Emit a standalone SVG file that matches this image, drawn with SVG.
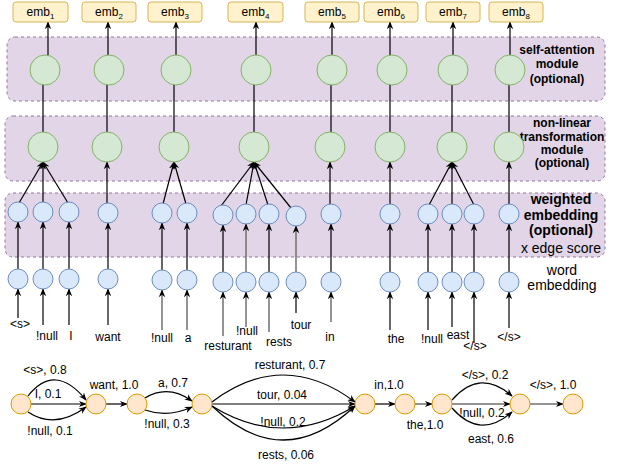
<svg xmlns="http://www.w3.org/2000/svg" width="622" height="465" viewBox="0 0 622 465">
<style>
text{font-family:"Liberation Sans",Arial,sans-serif;fill:#000}
.lbl{font-size:12px;text-anchor:middle}
.side{font-size:12px;font-weight:bold;text-anchor:middle}
.sideL{font-size:14px;font-weight:bold;text-anchor:middle}
.sideN{font-size:14px;text-anchor:middle}
.mod{fill:#e1d5e7;stroke:#9673a6;stroke-dasharray:3 3;stroke-width:1}
.emb{fill:#fff2cc;stroke:#d6b656;stroke-width:1}
.g{fill:#d5e8d4;stroke:#82b366;stroke-width:1}
.b{fill:#dae8fc;stroke:#6c8ebf;stroke-width:1}
.o{fill:#ffe6cc;stroke:#d79b00;stroke-width:1}
.e{fill:none;stroke:#000;stroke-width:1.2}
.a{fill:none;stroke:#000;stroke-width:1.2;marker-end:url(#arr)}
.ag{fill:none;stroke:#707070;stroke-width:1.5;marker-end:url(#arrg)}
</style>
<defs>
<marker id="arr" viewBox="0 0 10 10" refX="9" refY="5" markerWidth="8" markerHeight="8" markerUnits="userSpaceOnUse" orient="auto"><path d="M0,1 L10,5 L0,9 L3,5 z" fill="#000"/></marker>
<marker id="arrg" viewBox="0 0 10 10" refX="9" refY="5" markerWidth="8" markerHeight="8" markerUnits="userSpaceOnUse" orient="auto"><path d="M0,1 L10,5 L0,9 L3,5 z" fill="#000"/></marker>
</defs>

<g id="modules">
<rect id="selfattn-module" class="mod" x="7" y="37" width="598" height="64" rx="8"/>
<rect id="nonlinear-module" class="mod" x="5" y="116" width="600" height="65" rx="8"/>
<rect id="weighted-module" class="mod" x="5" y="193" width="600" height="64" rx="8"/>
<text class="side" x="557" y="54">self-attention</text>
<text class="side" x="557" y="68">module</text>
<text class="side" x="557" y="83">(optional)</text>
<text class="side" x="562" y="127">non-linear</text>
<text class="side" x="562" y="141">transformation</text>
<text class="side" x="562" y="154">module</text>
<text class="side" x="562" y="167">(optional)</text>
<text class="sideL" x="561" y="204">weighted</text>
<text class="sideL" x="561" y="220">embedding</text>
<text class="sideL" x="561" y="235">(optional)</text>
<text class="sideN" x="561" y="253">x edge score</text>
<text class="sideN" x="562" y="275">word</text>
<text class="sideN" x="562" y="290">embedding</text>
</g>

<g id="connectors">
<!-- to emb boxes -->
<line class="a" x1="48" y1="55" x2="48" y2="22"/>
<line class="a" x1="108" y1="55" x2="108" y2="22"/>
<line class="a" x1="176" y1="55" x2="176" y2="22"/>
<line class="a" x1="256" y1="55" x2="256" y2="22"/>
<line class="a" x1="332" y1="55" x2="332" y2="22"/>
<line class="a" x1="390" y1="55" x2="390" y2="22"/>
<line class="a" x1="453" y1="55" x2="453" y2="22"/>
<line class="a" x1="510" y1="55" x2="510" y2="22"/>
<!-- nonlinear to self-attn -->
<line class="e" x1="43" y1="132" x2="43" y2="85"/>
<line class="e" x1="107" y1="132" x2="107" y2="85"/>
<line class="e" x1="174" y1="132" x2="174" y2="85"/>
<line class="e" x1="254" y1="132" x2="254" y2="85"/>
<line class="e" x1="331" y1="132" x2="331" y2="85"/>
<line class="e" x1="390" y1="132" x2="390" y2="85"/>
<line class="e" x1="452" y1="132" x2="452" y2="85"/>
<line class="e" x1="509" y1="132" x2="509" y2="85"/>
<!-- weighted to nonlinear -->
<line class="a" x1="19" y1="203" x2="43" y2="162"/>
<line class="a" x1="43" y1="202" x2="43" y2="162"/>
<line class="a" x1="68" y1="203" x2="43" y2="162"/>
<line class="a" x1="107" y1="203" x2="107" y2="162"/>
<line class="a" x1="163" y1="204" x2="174" y2="162"/>
<line class="a" x1="186" y1="204" x2="174" y2="162"/>
<line class="a" x1="221" y1="206" x2="254" y2="162"/>
<line class="a" x1="246" y1="205" x2="254" y2="162"/>
<line class="a" x1="268" y1="205" x2="254" y2="162"/>
<line class="a" x1="291" y1="208" x2="254" y2="162"/>
<line class="a" x1="330" y1="204" x2="330" y2="162"/>
<line class="a" x1="390" y1="204" x2="390" y2="162"/>
<line class="a" x1="429" y1="205" x2="452" y2="162"/>
<line class="a" x1="452" y1="204" x2="452" y2="162"/>
<line class="a" x1="474" y1="205" x2="452" y2="162"/>
<line class="a" x1="509" y1="204" x2="509" y2="162"/>
<!-- word to weighted -->
<line class="a" x1="18" y1="269" x2="18" y2="222"/>
<line class="a" x1="43" y1="269" x2="43" y2="222"/>
<line class="a" x1="69" y1="269" x2="69" y2="222"/>
<line class="a" x1="108" y1="270" x2="108" y2="223"/>
<line class="a" x1="162" y1="270" x2="162" y2="223"/>
<line class="a" x1="187" y1="270" x2="187" y2="223"/>
<line class="a" x1="223" y1="272" x2="223" y2="225"/>
<line class="ag" x1="246" y1="272" x2="246" y2="224"/>
<line class="a" x1="269" y1="272" x2="269" y2="224"/>
<line class="ag" x1="296" y1="272" x2="296" y2="226"/>
<line class="a" x1="331" y1="272" x2="331" y2="224"/>
<line class="a" x1="390" y1="272" x2="390" y2="224"/>
<line class="a" x1="428" y1="272" x2="428" y2="224"/>
<line class="a" x1="452" y1="272" x2="452" y2="224"/>
<line class="a" x1="474" y1="272" x2="474" y2="224"/>
<line class="a" x1="509" y1="272" x2="509" y2="224"/>
<!-- labels to word -->
<line class="a" x1="18" y1="318" x2="18" y2="289"/>
<line class="a" x1="43" y1="325" x2="43" y2="289"/>
<line class="a" x1="69" y1="325" x2="69" y2="289"/>
<line class="a" x1="108" y1="325" x2="108" y2="289"/>
<line class="ag" x1="162" y1="330" x2="162" y2="290"/>
<line class="ag" x1="187" y1="330" x2="187" y2="290"/>
<line class="ag" x1="223" y1="336" x2="223" y2="292"/>
<line class="ag" x1="246" y1="327" x2="246" y2="292"/>
<line class="ag" x1="269" y1="332" x2="269" y2="292"/>
<line class="a" x1="296" y1="313" x2="296" y2="292"/>
<line class="ag" x1="331" y1="322" x2="331" y2="292"/>
<line class="a" x1="390" y1="330" x2="390" y2="292"/>
<line class="a" x1="428" y1="330" x2="428" y2="292"/>
<line class="a" x1="452" y1="327" x2="452" y2="292"/>
<line class="a" x1="474" y1="343" x2="474" y2="292"/>
<line class="a" x1="509" y1="328" x2="509" y2="292"/>
<!-- lattice -->
<path class="a" d="M28 396 Q55 362 86 400"/>
<line class="a" x1="31" y1="404" x2="86" y2="404"/>
<path class="a" d="M28 412 Q55 430 86 407"/>
<line class="a" x1="106" y1="404" x2="127" y2="404"/>
<path class="a" d="M145 398 Q168 384 192 401"/>
<path class="a" d="M145 410 Q168 418 192 407"/>
<path class="a" d="M212 402 Q283 348 355 402"/>
<line class="a" x1="212" y1="404" x2="355" y2="404"/>
<path class="a" d="M212 406 Q283 450 355 406"/>
<path class="a" d="M212 406 Q283 474 355 406"/>
<line class="a" x1="375" y1="404" x2="395" y2="404"/>
<line class="ag" x1="415" y1="404" x2="432" y2="404"/>
<path class="a" d="M452 400 Q480 368 512 396"/>
<line class="ag" x1="452" y1="404" x2="510" y2="404"/>
<path class="a" d="M452 408 Q480 440 512 412"/>
<line class="ag" x1="530" y1="404" x2="563" y2="404"/>
</g>

<g id="emb-nodes">
<g id="emb1"><rect class="emb" x="13" y="2" width="55" height="20" rx="3"/><text class="lbl" x="40.5" y="16">emb<tspan font-size="8" dy="3">1</tspan></text></g>
<g id="emb2"><rect class="emb" x="82" y="2" width="54" height="20" rx="3"/><text class="lbl" x="109" y="16">emb<tspan font-size="8" dy="3">2</tspan></text></g>
<g id="emb3"><rect class="emb" x="148" y="2" width="54" height="20" rx="3"/><text class="lbl" x="175" y="16">emb<tspan font-size="8" dy="3">3</tspan></text></g>
<g id="emb4"><rect class="emb" x="228" y="2" width="55" height="20" rx="3"/><text class="lbl" x="255.5" y="16">emb<tspan font-size="8" dy="3">4</tspan></text></g>
<g id="emb5"><rect class="emb" x="305" y="2" width="54" height="20" rx="3"/><text class="lbl" x="332" y="16">emb<tspan font-size="8" dy="3">5</tspan></text></g>
<g id="emb6"><rect class="emb" x="364" y="2" width="54" height="20" rx="3"/><text class="lbl" x="391" y="16">emb<tspan font-size="8" dy="3">6</tspan></text></g>
<g id="emb7"><rect class="emb" x="426" y="2" width="54" height="20" rx="3"/><text class="lbl" x="453" y="16">emb<tspan font-size="8" dy="3">7</tspan></text></g>
<g id="emb8"><rect class="emb" x="489" y="2" width="54" height="20" rx="3"/><text class="lbl" x="516" y="16">emb<tspan font-size="8" dy="3">8</tspan></text></g>
</g>

<g id="selfattn-nodes">
<circle id="sa1" class="g" cx="45" cy="70" r="15"/>
<circle id="sa2" class="g" cx="109" cy="70" r="15"/>
<circle id="sa3" class="g" cx="176" cy="70" r="15"/>
<circle id="sa4" class="g" cx="256" cy="70" r="15"/>
<circle id="sa5" class="g" cx="332" cy="70" r="15"/>
<circle id="sa6" class="g" cx="392" cy="70" r="15"/>
<circle id="sa7" class="g" cx="453" cy="70" r="15"/>
<circle id="sa8" class="g" cx="510" cy="70" r="15"/>
</g>

<g id="nonlinear-nodes">
<circle id="nl1" class="g" cx="43" cy="147" r="15"/>
<circle id="nl2" class="g" cx="107" cy="147" r="15"/>
<circle id="nl3" class="g" cx="174" cy="147" r="15"/>
<circle id="nl4" class="g" cx="254" cy="147" r="15"/>
<circle id="nl5" class="g" cx="330" cy="147" r="15"/>
<circle id="nl6" class="g" cx="390" cy="147" r="15"/>
<circle id="nl7" class="g" cx="452" cy="147" r="15"/>
<circle id="nl8" class="g" cx="509" cy="147" r="15"/>
</g>

<g id="weighted-nodes">
<circle id="w1" class="b" cx="18" cy="212" r="10"/>
<circle id="w2" class="b" cx="43" cy="212" r="10"/>
<circle id="w3" class="b" cx="69" cy="212" r="10"/>
<circle id="w4" class="b" cx="108" cy="213" r="10"/>
<circle id="w5" class="b" cx="162" cy="213" r="10"/>
<circle id="w6" class="b" cx="187" cy="213" r="10"/>
<circle id="w7" class="b" cx="223" cy="215" r="10"/>
<circle id="w8" class="b" cx="246" cy="214" r="10"/>
<circle id="w9" class="b" cx="269" cy="214" r="10"/>
<circle id="w10" class="b" cx="296" cy="216" r="10"/>
<circle id="w11" class="b" cx="331" cy="214" r="10"/>
<circle id="w12" class="b" cx="390" cy="214" r="10"/>
<circle id="w13" class="b" cx="428" cy="214" r="10"/>
<circle id="w14" class="b" cx="452" cy="214" r="10"/>
<circle id="w15" class="b" cx="474" cy="214" r="10"/>
<circle id="w16" class="b" cx="509" cy="214" r="10"/>
</g>

<g id="word-nodes">
<circle id="x1" class="b" cx="18" cy="279" r="10"/>
<circle id="x2" class="b" cx="43" cy="279" r="10"/>
<circle id="x3" class="b" cx="69" cy="279" r="10"/>
<circle id="x4" class="b" cx="108" cy="279" r="10"/>
<circle id="x5" class="b" cx="162" cy="280" r="10"/>
<circle id="x6" class="b" cx="187" cy="280" r="10"/>
<circle id="x7" class="b" cx="223" cy="282" r="10"/>
<circle id="x8" class="b" cx="246" cy="282" r="10"/>
<circle id="x9" class="b" cx="269" cy="282" r="10"/>
<circle id="x10" class="b" cx="296" cy="282" r="10"/>
<circle id="x11" class="b" cx="331" cy="282" r="10"/>
<circle id="x12" class="b" cx="390" cy="282" r="10"/>
<circle id="x13" class="b" cx="428" cy="282" r="10"/>
<circle id="x14" class="b" cx="452" cy="282" r="10"/>
<circle id="x15" class="b" cx="474" cy="282" r="10"/>
<circle id="x16" class="b" cx="509" cy="282" r="10"/>
</g>

<g id="word-labels">
<text class="lbl" x="20" y="328">&lt;s&gt;</text>
<text class="lbl" x="47" y="340">!null</text>
<text class="lbl" x="71" y="340">I</text>
<text class="lbl" x="108" y="341">want</text>
<text class="lbl" x="162" y="342">!null</text>
<text class="lbl" x="188" y="342">a</text>
<text class="lbl" x="228" y="350">resturant</text>
<text class="lbl" x="247" y="335">!null</text>
<text class="lbl" x="279" y="346">rests</text>
<text class="lbl" x="301" y="329">tour</text>
<text class="lbl" x="330" y="341">in</text>
<text class="lbl" x="396" y="343">the</text>
<text class="lbl" x="432" y="343">!null</text>
<text class="lbl" x="458" y="339">east</text>
<text class="lbl" x="475" y="350">&lt;/s&gt;</text>
<text class="lbl" x="509" y="341">&lt;/s&gt;</text>
</g>

<g id="lattice-nodes">
<circle id="n0" class="o" cx="21" cy="404" r="10"/>
<circle id="n1" class="o" cx="96" cy="404" r="10"/>
<circle id="n2" class="o" cx="137" cy="404" r="10"/>
<circle id="n3" class="o" cx="202" cy="404" r="10"/>
<circle id="n4" class="o" cx="365" cy="404" r="10"/>
<circle id="n5" class="o" cx="405" cy="404" r="10"/>
<circle id="n6" class="o" cx="442" cy="404" r="10"/>
<circle id="n7" class="o" cx="520" cy="404" r="10"/>
<circle id="n8" class="o" cx="573" cy="404" r="10"/>
</g>

<g id="lattice-labels">
<text class="lbl" x="45" y="374">&lt;s&gt;, 0.8</text>
<text class="lbl" x="48" y="398">I, 0.1</text>
<text class="lbl" x="50" y="435">!null, 0.1</text>
<text class="lbl" x="114" y="389">want, 1.0</text>
<text class="lbl" x="173" y="387">a, 0.7</text>
<text class="lbl" x="167" y="428">!null, 0.3</text>
<text class="lbl" x="290" y="369">resturant, 0.7</text>
<text class="lbl" x="282" y="399">tour, 0.04</text>
<text class="lbl" x="283" y="426">!null, 0.2</text>
<text class="lbl" x="286" y="459">rests, 0.06</text>
<text class="lbl" x="389" y="389">in,1.0</text>
<text class="lbl" x="425" y="429">the,1.0</text>
<text class="lbl" x="485" y="379">&lt;/s&gt;, 0.2</text>
<text class="lbl" x="482" y="417">!null, 0.2</text>
<text class="lbl" x="491" y="443">east, 0.6</text>
<text class="lbl" x="553" y="389">&lt;/s&gt;, 1.0</text>
</g>
</svg>
